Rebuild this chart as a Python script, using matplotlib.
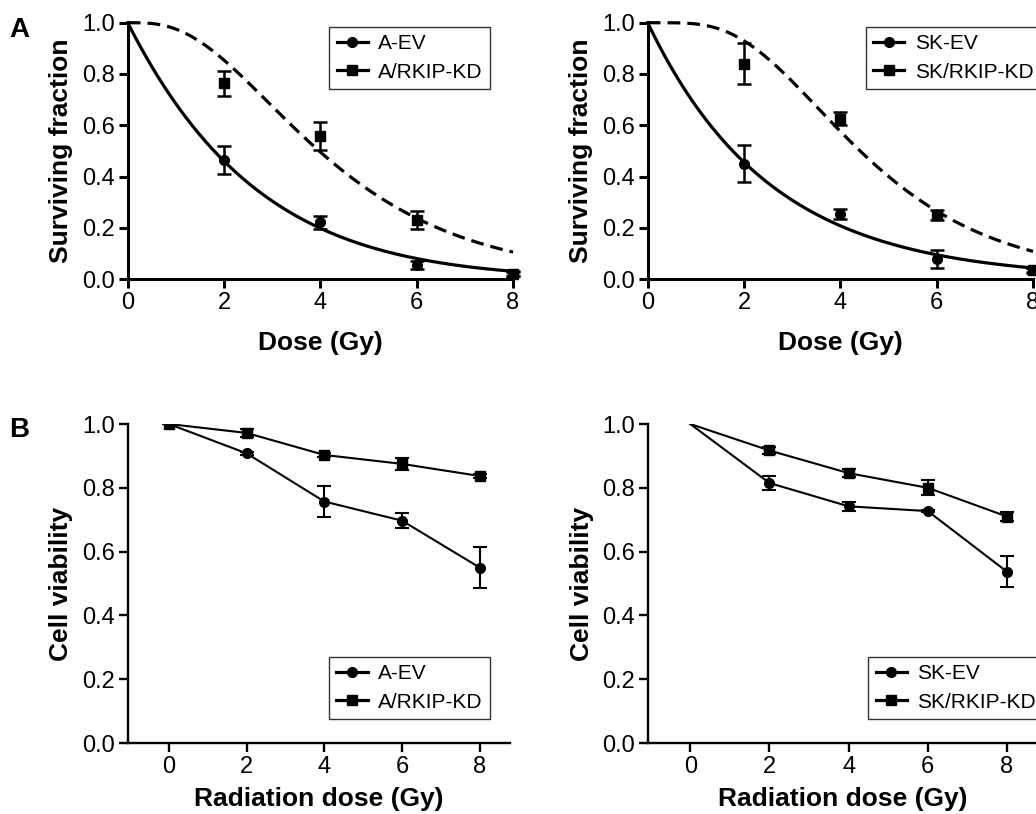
import numpy as np
import matplotlib.pyplot as plt
from matplotlib.lines import Line2D

plt.rcParams['font.family'] = ['Liberation Sans', 'DejaVu Sans']

# ---- data ----
dose = [0, 2, 4, 6, 8]

# A: clonogenic survival
a_ev = [1.0, 0.465, 0.222, 0.055, 0.02]
a_ev_err = [0, 0.055, 0.025, 0.015, 0.008]
a_kd = [1.0, 0.763, 0.558, 0.23, 0.02]
a_kd_err = [0, 0.048, 0.055, 0.035, 0.01]

sk_ev = [1.0, 0.45, 0.253, 0.08, 0.035]
sk_ev_err = [0, 0.072, 0.02, 0.035, 0.008]
sk_kd = [1.0, 0.84, 0.625, 0.25, 0.035]
sk_kd_err = [0, 0.08, 0.025, 0.02, 0.01]

# fitted curve parameters (EV: linear-quadratic, KD: multi-target)
a_ev_alpha, a_ev_beta = 0.372, 0.0082
a_kd_d0, a_kd_n = 2.3, 3.54
sk_ev_alpha, sk_ev_beta = 0.393, 0.0
sk_kd_d0, sk_kd_n = 2.05, 5.6

# B: cell viability
va_ev = [1.0, 0.908, 0.757, 0.697, 0.55]
va_ev_err = [0, 0.005, 0.048, 0.023, 0.065]
va_kd = [1.0, 0.972, 0.903, 0.875, 0.837]
va_kd_err = [0, 0.012, 0.005, 0.02, 0.006]

vsk_ev = [1.0, 0.815, 0.742, 0.727, 0.537]
vsk_ev_err = [0, 0.023, 0.015, 0.004, 0.049]
vsk_kd = [1.0, 0.917, 0.846, 0.80, 0.71]
vsk_kd_err = [0, 0.012, 0.013, 0.023, 0.015]


def lq(d, a, b):
    return np.exp(-a * d - b * d ** 2)


def mt(d, d0, n):
    return 1 - (1 - np.exp(-d / d0)) ** n


fig = plt.figure(figsize=(10.36, 8.14), dpi=100)

ax1 = fig.add_axes([0.1233, 0.6572, 0.3719, 0.3149])
ax2 = fig.add_axes([0.6252, 0.6572, 0.3719, 0.3149])
ax3 = fig.add_axes([0.1233, 0.0872, 0.3690, 0.3919])
ax4 = fig.add_axes([0.6258, 0.0872, 0.3760, 0.3919])


def style(ax, lw):
    for s in ['top', 'right']:
        ax.spines[s].set_visible(False)
    for s in ['left', 'bottom']:
        ax.spines[s].set_linewidth(lw)
    ax.tick_params(direction='out', length=6.5, width=lw, labelsize=17, pad=3)
    ax.set_yticks(np.arange(0, 1.01, 0.2))
    ax.set_yticklabels(['0.0', '0.2', '0.4', '0.6', '0.8', '1.0'])
    ax.set_xticks([0, 2, 4, 6, 8])


def add_legend(ax, l1, l2, bx, by):
    handles = [Line2D([], [], color='black', lw=2.3, marker='o', ms=7),
               Line2D([], [], color='black', lw=2.3, marker='s', ms=7)]
    leg = ax.legend(handles, [l1, l2], loc='upper left', bbox_to_anchor=(bx, by),
                    fontsize=15, frameon=True, fancybox=False, edgecolor='black',
                    handlelength=1.5, handletextpad=0.5, borderpad=0.35,
                    labelspacing=0.45, borderaxespad=0)
    leg.get_frame().set_linewidth(1.0)


dd = np.linspace(0, 8, 300)
panels_a = [
    (ax1, a_ev, a_ev_err, a_kd, a_kd_err, lq(dd, a_ev_alpha, a_ev_beta),
     mt(dd, a_kd_d0, a_kd_n), 'A-EV', 'A/RKIP-KD', 0.523),
    (ax2, sk_ev, sk_ev_err, sk_kd, sk_kd_err, lq(dd, sk_ev_alpha, sk_ev_beta),
     mt(dd, sk_kd_d0, sk_kd_n), 'SK-EV', 'SK/RKIP-KD', 0.566),
]
for ax, ev, eve, kd, kde, fit_ev, fit_kd, l1, l2, bx in panels_a:
    ax.plot(dd, fit_ev, color='black', lw=2.3, clip_on=False)
    ax.plot(dd, fit_kd, color='black', lw=2.3, ls=(0, (4, 2.2)), clip_on=False)
    ax.errorbar(dose[1:], ev[1:], yerr=eve[1:], fmt='o', color='black', ms=7,
                capsize=5, elinewidth=1.8, capthick=1.8, clip_on=False)
    ax.errorbar(dose[1:], kd[1:], yerr=kde[1:], fmt='s', color='black', ms=7,
                capsize=5, elinewidth=1.8, capthick=1.8, clip_on=False)
    ax.set_xlim(0, 8)
    ax.set_ylim(0, 1.0)
    style(ax, 2.2)
    ax.set_xlabel('Dose (Gy)', fontsize=19, fontweight='bold', labelpad=12)
    ax.set_ylabel('Surviving fraction', fontsize=19, fontweight='bold', labelpad=6)
    add_legend(ax, l1, l2, bx, 0.983)

panels_b = [
    (ax3, va_ev, va_ev_err, va_kd, va_kd_err, 'A-EV', 'A/RKIP-KD', 0, 0.527),
    (ax4, vsk_ev, vsk_ev_err, vsk_kd, vsk_kd_err, 'SK-EV', 'SK/RKIP-KD', 1, 0.565),
]
for ax, ev, eve, kd, kde, l1, l2, start, bx in panels_b:
    ax.plot(dose, ev, color='black', lw=1.5)
    ax.plot(dose, kd, color='black', lw=1.5)
    ax.errorbar(dose[start:], ev[start:], yerr=eve[start:], fmt='o', color='black',
                ms=7, capsize=5, elinewidth=1.5, capthick=1.5)
    ax.errorbar(dose[start:], kd[start:], yerr=kde[start:], fmt='s', color='black',
                ms=7, capsize=5, elinewidth=1.5, capthick=1.5)
    ax.set_xlim(-1.06, 8.78)
    ax.set_ylim(0, 1.0)
    style(ax, 1.7)
    ax.set_xlabel('Radiation dose (Gy)', fontsize=19, fontweight='bold', labelpad=6)
    ax.set_ylabel('Cell viability', fontsize=19, fontweight='bold', labelpad=6)
    add_legend(ax, l1, l2, bx, 0.27)

fig.text(0.009, 0.963, 'A', fontsize=20, fontweight='bold', va='center')
fig.text(0.009, 0.472, 'B', fontsize=20, fontweight='bold', va='center')

fig.savefig('out.png', dpi=100)
